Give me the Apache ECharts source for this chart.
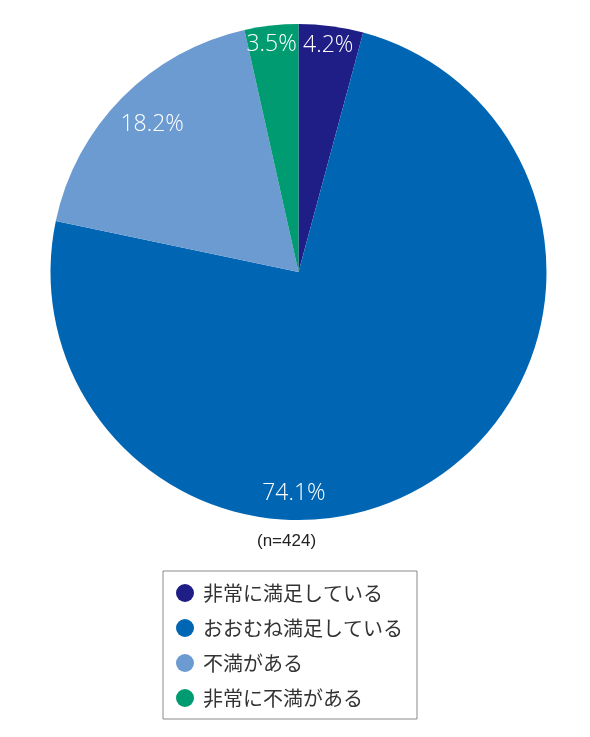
<!DOCTYPE html>
<html>
<head>
<meta charset="utf-8">
<script src="https://cdn.jsdelivr.net/npm/echarts@6/dist/echarts.min.js"></script>
<style>
html,body{margin:0;padding:0;background:#fff;}
#chart{width:590px;height:737px;}
</style>
</head>
<body>
<div id="chart"></div>
<script>
const categories = ['非常に満足している', 'おおむね満足している', '不満がある', '非常に不満がある'];
const values = [4.2, 74.1, 18.2, 3.5];
const sampleNote = '(n=424)';

const colors = ['#1f1e87', '#0066b3', '#6b9bd1', '#009b70'];
const labelOffsets = [[13, -101], [-71, 113], [-56, -58], [-13, -101]];

const chart = echarts.init(document.getElementById('chart'), null, {renderer: 'canvas'});
chart.setOption({
  animation: false,
  color: colors,
  title: {
    text: sampleNote,
    left: 257,
    top: 533,
    padding: 0,
    textStyle: {fontSize: 17, fontWeight: 'normal', color: '#222', fontFamily: 'Liberation Sans, Arial, sans-serif'}
  },
  legend: {
    orient: 'vertical',
    left: 163,
    top: 571,
    icon: 'circle',
    itemWidth: 18,
    itemHeight: 18,
    itemGap: 15,
    padding: [12, 14, 11, 13],
    borderColor: '#8a8a8a',
    borderWidth: 1,
    data: categories,
    textStyle: {fontSize: 20, lineHeight: 20, color: '#333', fontFamily: 'Noto Sans CJK JP, sans-serif', padding: [0, 0, 0, 4]}
  },
  series: [{
    type: 'pie',
    center: [298.5, 272],
    radius: [0, 248],
    startAngle: 90,
    clockwise: true,
    avoidLabelOverlap: false,
    itemStyle: {borderWidth: 0},
    label: {
      show: true,
      position: 'inside',
      color: '#fff',
      fontSize: 23,
      fontWeight: 300,
      fontFamily: 'Open Sans, Liberation Sans, sans-serif',
      formatter: p => p.value.toFixed(1) + '%'
    },
    labelLine: {show: false},
    emphasis: {disabled: true},
    data: categories.map((c, i) => ({
      name: c,
      value: values[i],
      label: {offset: labelOffsets[i]}
    }))
  }]
});
</script>
</body>
</html>
